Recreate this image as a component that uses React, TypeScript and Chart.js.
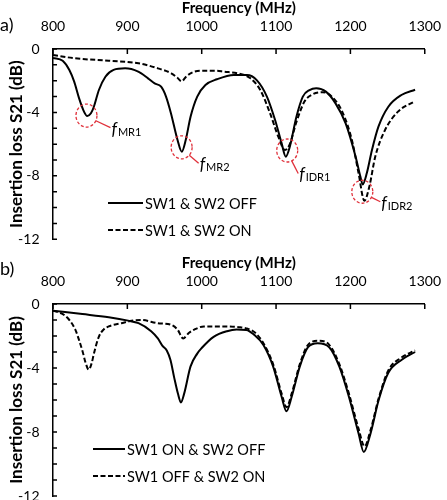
import { useEffect, useRef } from 'react';
import { Chart, registerables } from 'chart.js';

Chart.register(...registerables);

const FONT = 'Lato, "Open Sans", sans-serif';

// ---------- axis settings ----------
const freqMin = 800;
const freqMax = 1300;
const freqStep = 100;
const lossMin = -12;
const lossMax = 0;
const lossMinorStep = 1;
const lossLabelStep = 4;

// ---------- panel a) ----------
const aOffFreq = [800, 813, 822, 828.5, 835, 841.7, 846, 851, 855, 861.6, 870.5, 881.5, 897, 914.6, 927.8, 936.7, 945.4, 952, 958.7, 967.5, 973.2, 978.5, 985, 994, 1005, 1020.5, 1043.4, 1061, 1074, 1087.7, 1098.7, 1107.5, 1113, 1118.5, 1127.4, 1136, 1145, 1154, 1167, 1180, 1193.6, 1207, 1213.5, 1216.5, 1222, 1229, 1237.7, 1251, 1268.6, 1287];
const aOffLoss = [-0.56, -0.74, -1.32, -2.06, -3.1, -3.95, -4.23, -4.05, -3.64, -2.6, -1.75, -1.32, -1.22, -1.43, -1.85, -2.17, -2.38, -3.0, -4.06, -5.74, -6.48, -5.74, -4.27, -3.0, -2.27, -1.91, -1.64, -1.64, -1.96, -3.0, -4.48, -5.95, -6.79, -6.16, -4.27, -3.0, -2.59, -2.48, -2.69, -3.43, -4.69, -6.79, -8.06, -8.54, -7.84, -6.37, -4.9, -3.64, -2.9, -2.57];

const aOnFreq = [800, 830, 875, 915, 941, 959, 967, 973, 979, 985, 998, 1020, 1030, 1048, 1065.6, 1078.8, 1092, 1103, 1112, 1118.5, 1127.4, 1138.4, 1149.4, 1162.6, 1176, 1189, 1202, 1211, 1218.8, 1225.4, 1233.4, 1246.6, 1264, 1287];
const aOnLoss = [-0.38, -0.59, -0.74, -0.9, -1.22, -1.53, -1.8, -2.03, -1.75, -1.53, -1.37, -1.37, -1.43, -1.53, -1.85, -2.59, -4.06, -5.53, -6.37, -6.0, -4.6, -3.3, -2.85, -2.72, -3.05, -3.95, -5.74, -7.84, -9.57, -8.69, -6.79, -5.11, -3.95, -3.28];

const aLabels = ['SW1 & SW2 OFF', 'SW1 & SW2 ON'];

const markerFreq = [845, 973, 1115, 1216];
const markerLoss = [-4.2, -6.2, -6.4, -9.0];
const markerSub = ['MR1', 'MR2', 'IDR1', 'IDR2'];

// ---------- panel b) ----------
const bSw1OnFreq = [800, 839.5, 875, 901, 915, 932, 941, 947, 953, 958, 963, 968, 972, 976.4, 985, 994, 1000, 1016, 1034, 1047, 1060, 1070, 1083, 1096, 1107.5, 1114, 1121, 1132, 1143, 1156, 1171.5, 1185, 1198, 1211, 1218, 1227, 1238, 1251, 1268.6, 1287];
const bSw1OnLoss = [-0.42, -0.63, -0.83, -1.04, -1.2, -1.7, -2.15, -2.6, -2.9, -3.5, -4.6, -5.6, -6.15, -5.6, -3.9, -3.1, -2.75, -2.05, -1.7, -1.6, -1.62, -1.9, -2.56, -3.9, -5.8, -6.7, -5.8, -3.9, -2.7, -2.45, -2.7, -3.9, -5.8, -8.1, -9.25, -8.1, -6.0, -4.3, -3.5, -3.0];

const bSw2OnFreq = [800, 812, 822, 830, 835, 840, 844, 848, 852, 855, 861.6, 868, 875, 892, 905.6, 918.6, 941, 958.7, 967.5, 975, 983, 990, 1003, 1030, 1050, 1062, 1072, 1083, 1096, 1107.5, 1114, 1121, 1132, 1143, 1157, 1171.5, 1185, 1198, 1211, 1219, 1227, 1238, 1251, 1268.6, 1287];
const bSw2OnLoss = [-0.42, -0.6, -1.0, -1.6, -2.25, -3.0, -3.7, -4.1, -3.7, -3.1, -2.05, -1.6, -1.4, -1.2, -1.05, -1.0, -1.2, -1.3, -1.6, -2.15, -1.8, -1.6, -1.4, -1.4, -1.45, -1.55, -1.8, -2.45, -3.75, -5.6, -6.45, -5.6, -3.75, -2.55, -2.3, -2.55, -3.75, -5.6, -7.8, -8.9, -7.9, -5.9, -4.15, -3.35, -2.9];

const bLabels = ['SW1 ON & SW2 OFF', 'SW1 OFF & SW2 ON'];

const xTitle = 'Frequency (MHz)';
const yTitle = 'Insertion loss S21 (dB)';

const RED = '#e0313b';
const DASH = [5, 2.5];

function pts(xs: number[], ys: number[]) {
  return xs.map((x, i) => ({ x, y: ys[i] }));
}

const decorPlugin = {
  id: 'decor',
  afterDraw(chart: any, _args: any, opts: any) {
    const ctx: CanvasRenderingContext2D = chart.ctx;
    const xs = chart.scales.x;
    const ys = chart.scales.y;
    ctx.save();
    // inward tick marks
    ctx.strokeStyle = '#000';
    ctx.lineWidth = 1.5;
    ctx.setLineDash([]);
    ctx.beginPath();
    xs.ticks.forEach((t: any) => {
      const px = xs.getPixelForValue(t.value);
      ctx.moveTo(px, xs.bottom);
      ctx.lineTo(px, xs.bottom + 5);
    });
    ys.ticks.forEach((t: any) => {
      const py = ys.getPixelForValue(t.value);
      ctx.moveTo(ys.right, py);
      ctx.lineTo(ys.right + 4, py);
    });
    ctx.stroke();

    // panel tag
    ctx.fillStyle = '#000';
    ctx.font = `18px ${FONT}`;
    ctx.textAlign = 'left';
    ctx.textBaseline = 'middle';
    ctx.fillText(opts.tag, 0, opts.tagY);

    // legend
    const lg = opts.legend;
    chart.data.datasets.forEach((ds: any, i: number) => {
      const y = lg.y + i * lg.gap;
      ctx.beginPath();
      ctx.strokeStyle = '#000';
      ctx.lineWidth = 2;
      ctx.setLineDash(ds.borderDash || []);
      ctx.moveTo(lg.x, y);
      ctx.lineTo(lg.x + lg.len, y);
      ctx.stroke();
      ctx.setLineDash([]);
      ctx.font = `14.5px ${FONT}`;
      ctx.fillStyle = '#000';
      ctx.textBaseline = 'middle';
      ctx.fillText(ds.label, lg.x + lg.len + 2, y + 1);
    });

    // resonance markers
    (opts.markers || []).forEach((m: any) => {
      const cx = xs.getPixelForValue(m.f);
      const cy = ys.getPixelForValue(m.db);
      const rx = 10.5, ry = 11.5;
      ctx.beginPath();
      ctx.strokeStyle = RED;
      ctx.lineWidth = 1.3;
      ctx.setLineDash([3, 2]);
      ctx.ellipse(cx, cy, rx, ry, 0, 0, Math.PI * 2);
      ctx.stroke();
      ctx.setLineDash([]);
      const lx = cx + m.dx;
      const ly = cy + m.dy;
      const ang = Math.atan2(ly - 7 - cy, lx - 1 - cx);
      ctx.beginPath();
      ctx.moveTo(cx + rx * Math.cos(ang), cy + ry * Math.sin(ang));
      ctx.lineTo(lx - 1, ly - 7);
      ctx.stroke();
      ctx.fillStyle = '#000';
      ctx.textBaseline = 'alphabetic';
      ctx.font = `italic 17px ${FONT}`;
      ctx.fillText('f', lx, ly);
      const fw = ctx.measureText('f').width;
      ctx.font = `11px ${FONT}`;
      ctx.fillText(m.sub, lx + fw + 1, ly + 1);
    });
    ctx.restore();
  },
};

function makeOptions(bottomPad: number, plug: any) {
  return {
    responsive: false,
    maintainAspectRatio: false,
    animation: false as const,
    layout: { padding: { left: 0, right: 16, top: 0, bottom: bottomPad } },
    plugins: {
      legend: { display: false },
      tooltip: { enabled: false },
      decor: plug,
    },
    elements: { point: { radius: 0 } },
    scales: {
      x: {
        type: 'linear' as const,
        position: 'top' as const,
        min: freqMin,
        max: freqMax,
        grid: { display: false },
        border: { display: true, color: '#000', width: 1.5 },
        ticks: {
          stepSize: freqStep,
          padding: 6,
          color: '#000',
          font: { family: FONT, size: 14 },
          maxRotation: 0,
          autoSkip: false,
          callback: (v: any) => String(v),
        },
        title: {
          display: true,
          text: xTitle,
          color: '#000',
          padding: { top: 0, bottom: 0 },
          font: { family: FONT, size: 15, weight: 'bold' as const, lineHeight: 1.1 },
        },
        afterFit: (s: any) => { s.height = 49; },
      },
      y: {
        type: 'linear' as const,
        min: lossMin,
        max: lossMax,
        grid: { display: false },
        border: { display: true, color: '#000', width: 1.5 },
        ticks: {
          stepSize: lossMinorStep,
          padding: 5.5,
          color: '#000',
          autoSkip: false,
          font: { family: FONT, size: 14 },
          callback: (v: any) => (Number(v) % lossLabelStep === 0 ? String(v) : ''),
        },
        title: {
          display: true,
          text: yTitle,
          color: '#000',
          padding: { top: 6.8, bottom: 0 },
          font: { family: FONT, size: 17, weight: 'bold' as const },
        },
        afterFit: (s: any) => { s.width = 53; },
      },
    },
  };
}

function Panel(props: { top: number; config: any }) {
  const ref = useRef<HTMLCanvasElement | null>(null);
  useEffect(() => {
    if (!ref.current) return;
    const chart = new Chart(ref.current, props.config);
    return () => chart.destroy();
  }, []);
  return (
    <canvas
      ref={ref}
      width={447}
      height={255}
      style={{ position: 'absolute', left: 0, top: props.top, width: 447, height: 255 }}
    />
  );
}

export default function App() {
  const line = (label: string, data: any[], dashed: boolean) => ({
    label,
    data,
    borderColor: '#000',
    borderWidth: 2,
    borderDash: dashed ? DASH : [],
    fill: false,
    pointRadius: 0,
    cubicInterpolationMode: 'monotone' as const,
  });

  const configA = {
    type: 'line' as const,
    data: {
      datasets: [
        line(aLabels[0], pts(aOffFreq, aOffLoss), false),
        line(aLabels[1], pts(aOnFreq, aOnLoss), true),
      ],
    },
    options: makeOptions(15.7, {
      tag: 'a)',
      tagY: 25,
      legend: { x: 108, y: 203, gap: 27, len: 35 },
      markers: markerFreq.map((f, i) => ({
        f,
        db: markerLoss[i],
        sub: markerSub[i],
        dx: [25, 18, 12, 19][i],
        dy: [19, 23, 30, 17][i],
      })),
    }),
    plugins: [decorPlugin],
  };

  const configB = {
    type: 'line' as const,
    data: {
      datasets: [
        line(bLabels[0], pts(bSw1OnFreq, bSw1OnLoss), false),
        line(bLabels[1], pts(bSw2OnFreq, bSw2OnLoss), true),
      ],
    },
    options: makeOptions(14, {
      tag: 'b)',
      tagY: 14,
      legend: { x: 93, y: 194, gap: 27, len: 32 },
      markers: [],
    }),
    plugins: [decorPlugin],
  };

  return (
    <div
      style={{
        position: 'fixed',
        left: 0,
        top: 0,
        width: 447,
        height: 500,
        overflow: 'hidden',
        background: '#fff',
      }}
    >
      <Panel top={0} config={configA} />
      <Panel top={255} config={configB} />
    </div>
  );
}
